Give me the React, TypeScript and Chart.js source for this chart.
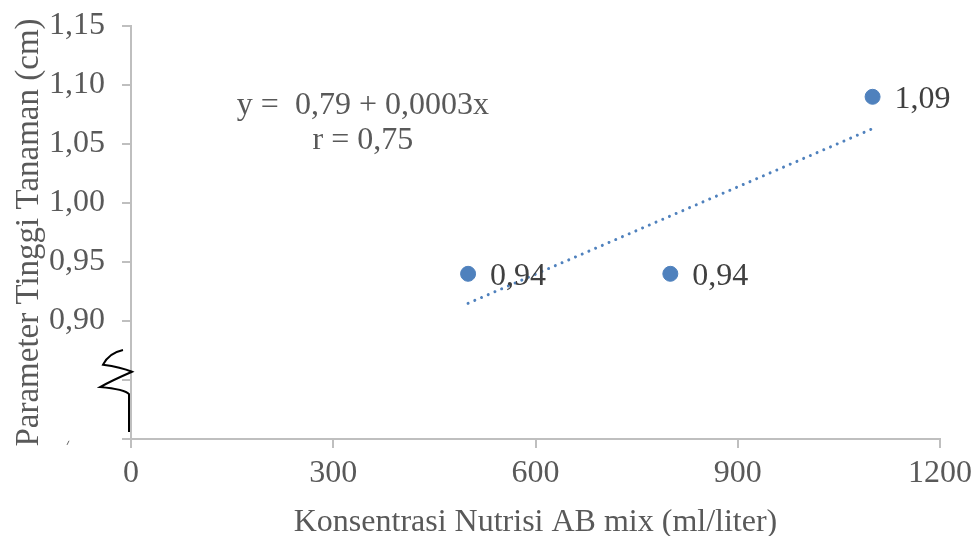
import React, { useEffect, useRef } from "react";
import { Chart, registerables } from "chart.js";

Chart.register(...registerables);

const xValues = [500, 800, 1100];
const yValues = [0.94, 0.94, 1.09];
const pointLabels = ["0,94", "0,94", "1,09"];
const trendX = [500, 1100];
const trendY = [0.915, 1.063];
const xTicks = [0, 300, 600, 900, 1200];
const yTickLabels = ["0,90", "0,95", "1,00", "1,05", "1,10", "1,15"];
const equationLines = ["y =  0,79 + 0,0003x", "r = 0,75"];
const xTitle = "Konsentrasi Nutrisi AB mix (ml/liter)";
const yTitle = "Parameter Tinggi Tanaman (cm)";

const FONT = "'Liberation Serif', 'Times New Roman', serif";
const BLUE = "#4f81bd";
const AXIS = "#bfbfbf";

const extrasPlugin = {
  id: "extras",
  afterDatasetsDraw(chart: any) {
    const ctx = chart.ctx;
    const xs = chart.scales.x;
    const ys = chart.scales.y;
    const area = chart.chartArea;
    ctx.save();
    ctx.font = `32px ${FONT}`;
    ctx.fillStyle = "#404040";
    ctx.textAlign = "left";
    ctx.textBaseline = "middle";
    xValues.forEach((xv, i) => {
      const px = xs.getPixelForValue(xv);
      const py = ys.getPixelForValue(yValues[i]);
      ctx.fillText(pointLabels[i], px + 22, py + 3);
    });
    ctx.fillStyle = "#595959";
    ctx.font = `32px ${FONT}`;
    ctx.textAlign = "center";
    const ex = xs.getPixelForValue(344);
    ctx.fillText(equationLines[0], ex, ys.getPixelForValue(1.0825));
    ctx.fillText(equationLines[1], ex, ys.getPixelForValue(1.0525));
    const ax = area.left;
    const yb = (v: number) => ys.getPixelForValue(v);
    ctx.strokeStyle = "#000";
    ctx.lineWidth = 2;
    ctx.beginPath();
    ctx.moveTo(ax - 8, yb(0.8755));
    ctx.quadraticCurveTo(ax - 22, yb(0.873), ax - 28, yb(0.863));
    ctx.quadraticCurveTo(ax - 10, yb(0.861), ax + 1, yb(0.857));
    ctx.quadraticCurveTo(ax - 18, yb(0.850), ax - 31, yb(0.844));
    ctx.quadraticCurveTo(ax - 6, yb(0.842), ax - 2, yb(0.838));
    ctx.lineTo(ax - 2, yb(0.806));
    ctx.stroke();
    ctx.strokeStyle = "#666";
    ctx.lineWidth = 1;
    ctx.beginPath();
    ctx.moveTo(ax - 64, yb(0.795));
    ctx.lineTo(ax - 62, yb(0.7985));
    ctx.stroke();
    ctx.restore();
  },
};

export default function App() {
  const ref = useRef<HTMLCanvasElement>(null);
  useEffect(() => {
    if (!ref.current) return;
    const chart = new Chart(ref.current, {
      type: "scatter",
      data: {
        datasets: [
          {
            type: "line",
            data: trendX.map((x, i) => ({ x, y: trendY[i] })),
            borderColor: BLUE,
            borderWidth: 3,
            borderDash: [0.01, 7.3],
            borderCapStyle: "round",
            pointRadius: 0,
            fill: false,
          } as any,
          {
            data: xValues.map((x, i) => ({ x, y: yValues[i] })),
            backgroundColor: BLUE,
            borderColor: BLUE,
            pointRadius: 7.5,
            pointHoverRadius: 7.5,
          },
        ],
      },
      options: {
        animation: false,
        responsive: false,
        maintainAspectRatio: false,
        events: [],
        layout: { padding: { top: 26, right: 34, left: 0, bottom: 0 } },
        plugins: { legend: { display: false }, tooltip: { enabled: false } },
        scales: {
          x: {
            type: "linear",
            min: 0,
            max: 1200,
            afterBuildTicks: (s: any) => {
              s.ticks = xTicks.map((v) => ({ value: v }));
            },
            ticks: {
              font: { family: FONT, size: 32 },
              color: "#595959",
              padding: 6,
              maxRotation: 0,
              callback: (v: any) => String(v),
            },
            grid: { drawOnChartArea: false, drawTicks: true, tickLength: 9, color: AXIS, lineWidth: 2 },
            border: { color: AXIS, width: 2 },
            title: {
              display: true,
              text: xTitle,
              font: { family: FONT, size: 32 },
              color: "#595959",
              padding: { top: 8, bottom: -6 },
            },
            afterFit: (s: any) => {
              s.height = 97;
              s.paddingLeft = 0;
              s.paddingRight = 0;
            },
          },
          y: {
            type: "linear",
            min: 0.8,
            max: 1.15,
            afterBuildTicks: (s: any) => {
              const vals = [0.8, 0.85, 0.9, 0.95, 1.0, 1.05, 1.1, 1.15];
              s.ticks = vals.map((v) => ({ value: v }));
            },
            ticks: {
              font: { family: FONT, size: 32 },
              color: "#595959",
              padding: 17,
              callback: (v: any) => {
                const idx = Math.round((Number(v) - 0.9) / 0.05);
                return idx >= 0 ? yTickLabels[idx] : "";
              },
            },
            grid: { drawOnChartArea: false, drawTicks: true, tickLength: 9, color: AXIS, lineWidth: 2 },
            border: { color: AXIS, width: 2 },
            title: {
              display: true,
              text: yTitle,
              font: { family: FONT, size: 33 },
              color: "#595959",
              padding: { top: 10, bottom: 0 },
            },
            afterFit: (s: any) => {
              s.width = 131;
              s.paddingTop = 0;
              s.paddingBottom = 0;
            },
          },
        },
      },
      plugins: [extrasPlugin],
    });
    return () => chart.destroy();
  }, []);
  return (
    <div style={{ position: "fixed", left: 0, top: 0, width: 974, height: 536, background: "#fff" }}>
      <canvas ref={ref} width={974} height={536} style={{ display: "block" }} />
    </div>
  );
}
